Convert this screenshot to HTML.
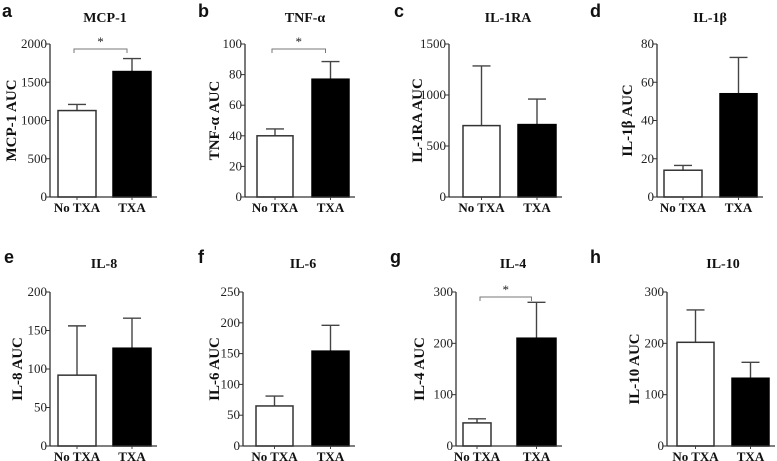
<!DOCTYPE html>
<html><head><meta charset="utf-8"><style>
html,body{margin:0;padding:0;background:#fff;}
svg{display:block;}
.tt{font-family:"Liberation Serif",serif;font-weight:bold;font-size:14px;fill:#111;}
.tk{font-family:"Liberation Serif",serif;font-size:13px;fill:#222;}
.xl{font-family:"Liberation Serif",serif;font-weight:bold;font-size:13px;fill:#111;}
.yl{font-family:"Liberation Serif",serif;font-weight:bold;font-size:15px;fill:#111;}
.pl{font-family:"Liberation Sans",sans-serif;font-weight:bold;font-size:18px;fill:#111;}
</style></head><body>
<svg id="fig" width="777" height="461" viewBox="0 0 777 461" xmlns="http://www.w3.org/2000/svg"></svg>
<script>
const panelLetters = ['a','b','c','d','e','f','g','h'];
const panelTitles = ['MCP-1','TNF-α','IL-1RA','IL-1β','IL-8','IL-6','IL-4','IL-10'];
const yTitles = ['MCP-1 AUC','TNF-α AUC','IL-1RA AUC','IL-1β AUC','IL-8 AUC','IL-6 AUC','IL-4 AUC','IL-10 AUC'];
const categories = ['No TXA','TXA'];
const meanNoTXA = [1130, 40, 700, 14, 92, 65, 45, 202];
const errNoTXA  = [1210, 44.5, 1285, 16.5, 156, 81, 53, 265];
const meanTXA   = [1640, 77, 710, 54, 127, 154, 210, 132];
const errTXA    = [1810, 88.5, 960, 73, 166, 196, 280, 163];
const yMax = [2000, 100, 1500, 80, 200, 250, 300, 300];
const yTicks = [
  [0,500,1000,1500,2000],[0,20,40,60,80,100],[0,500,1000,1500],[0,20,40,60,80],
  [0,50,100,150,200],[0,50,100,150,200,250],[0,100,200,300],[0,100,200,300]];
const significant = [true,true,false,false,false,false,true,false];

const L = [
 {ax:50,y0:197,yt:44,w:[58,96],b:[113,151],lx:2,ly:0,tx:105,yx:12},
 {ax:245,y0:197,yt:44,w:[257,293],b:[312,349],lx:198,ly:0,tx:305,yx:215},
 {ax:449,y0:197,yt:44,w:[463,500],b:[518,556],lx:394,ly:0,tx:508,yx:418},
 {ax:657,y0:197,yt:44,w:[664,702],b:[720,757],lx:590,ly:0,tx:710,yx:628},
 {ax:50,y0:446,yt:292,w:[58,96],b:[113,151],lx:4,ly:246,tx:104,yx:18},
 {ax:243,y0:446,yt:292,w:[256,293],b:[312,349],lx:198,ly:246,tx:303,yx:215},
 {ax:456,y0:446,yt:292,w:[463,491],b:[517,556],lx:390,ly:246,tx:513,yx:420},
 {ax:667,y0:446,yt:292,w:[677,714],b:[732,769],lx:590,ly:246,tx:723,yx:635}];

const NS='http://www.w3.org/2000/svg';
const svg=document.getElementById('fig');
function mk(tag,attrs,parent,text){const e=document.createElementNS(NS,tag);for(const k in attrs)e.setAttribute(k,attrs[k]);if(text!==undefined)e.textContent=text;parent.appendChild(e);return e;}

for(let i=0;i<8;i++){
  const p=L[i];
  const g=mk('g',{},svg);
  
  
  const y=v=>p.y0-(v/yMax[i])*(p.y0-p.yt);
  const lt=mk('text',{x:p.lx,y:p.ly+17,class:'pl'},g,panelLetters[i]);
  
  
  const tt=mk('text',{x:p.tx,y:p.ly+22,class:'tt','text-anchor':'middle'},g,panelTitles[i]);
  
  
  const ym=(p.y0+p.yt)/2;
  const yl=mk('text',{x:p.yx,y:ym,class:'yl','text-anchor':'middle','dominant-baseline':'central',transform:`rotate(-90 ${p.yx} ${ym})`},g,yTitles[i]);
  
  
  const vals=[meanNoTXA[i],meanTXA[i]], errs=[errNoTXA[i],errTXA[i]], xs=[p.w,p.b];
  for(let k=0;k<2;k++){
    const cx=(xs[k][0]+xs[k][1])/2;
    const eb=mk('g',{},g);
    
    
    mk('line',{x1:cx,x2:cx,y1:y(vals[k]),y2:y(errs[k]),stroke:'#444','stroke-width':1.4},eb);
    mk('line',{x1:cx-9,x2:cx+9,y1:y(errs[k]),y2:y(errs[k]),stroke:'#444','stroke-width':1.4},eb);
    const r=mk('rect',{x:xs[k][0],y:y(vals[k]),width:xs[k][1]-xs[k][0],height:p.y0-y(vals[k]),fill:k?'#000':'#fff',stroke:k?'#000':'#333','stroke-width':1.5},g);
    
    
    mk('line',{x1:cx,x2:cx,y1:p.y0,y2:p.y0+3,stroke:'#444','stroke-width':1},g);
    const xl=mk('text',{x:cx,y:p.y0+15,class:'xl','text-anchor':'middle'},g,categories[k]);
    
    
  }
  const ya=mk('line',{x1:p.ax,x2:p.ax,y1:p.yt,y2:p.y0,stroke:'#333','stroke-width':1.3},g);
  
  
  const xa=mk('line',{x1:p.ax,x2:p.b[1]+6,y1:p.y0,y2:p.y0,stroke:'#333','stroke-width':1.3},g);
  
  
  for(const t of yTicks[i]){
    mk('line',{x1:p.ax-4,x2:p.ax,y1:y(t),y2:y(t),stroke:'#333','stroke-width':1},g);
    const tl=mk('text',{x:p.ax-3,y:y(t)+4,class:'tk','text-anchor':'end'},g,t);
    
    
  }
  if(significant[i]){
    const bg=mk('g',{},g);
    
    
    const x1=(p.w[0]+p.w[1])/2+(i==6?6:0)-3, x2=(p.b[0]+p.b[1])/2-5;
    const by=p.yt+5;
    mk('path',{d:`M${x1} ${by+4}V${by}H${x2}V${by+4}`,fill:'none',stroke:'#777','stroke-width':1},bg);
    mk('text',{x:(x1+x2)/2,y:by-3,'text-anchor':'middle',class:'tk','font-size':'11'},bg,'*');
  }
}
</script>
</body></html>
